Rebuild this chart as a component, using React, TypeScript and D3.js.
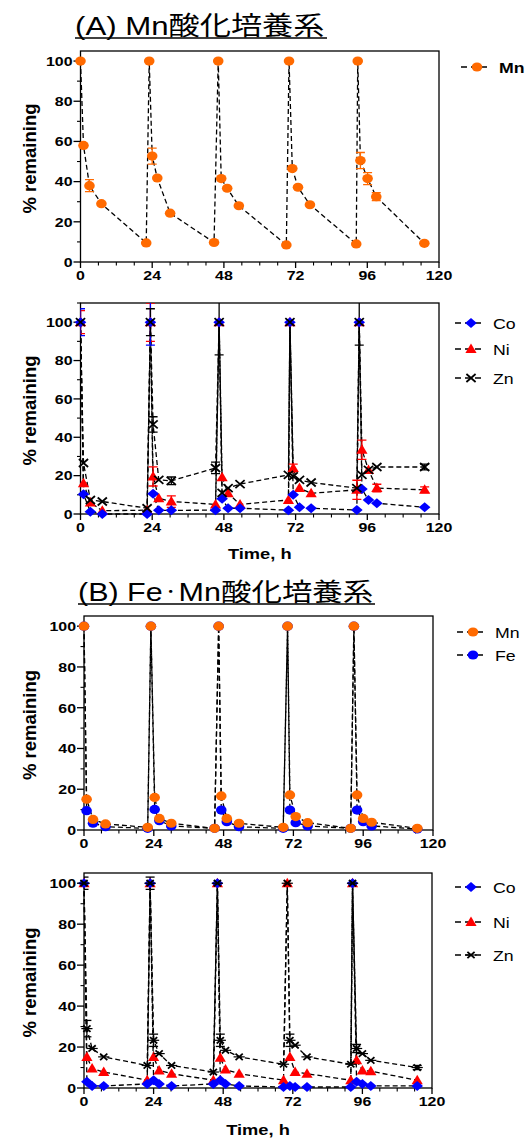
import React from 'react';
import * as d3 from 'd3';

const W = 530;
const H = 1138;
const FONT = '"Liberation Sans", Arial, "Noto Sans CJK JP", sans-serif';

// ---------- Panel A (top): Mn ----------
const aMnTime = [0, 1, 3, 7, 22, 23, 24, 25.7, 30, 44.7, 46.1, 47.1, 49.1, 53, 68.9, 69.8, 70.9, 72.8, 76.8, 92.3, 92.8, 93.7, 96.1, 99, 115.1];
const aMnValue = [100, 58, 38, 29, 9.5, 100, 52.7, 41.8, 24.3, 9.7, 100, 41.5, 36.7, 28, 8.5, 100, 46.5, 37.2, 28.5, 9, 100, 50.5, 41.5, 32.5, 9.3];
const aMnError = [0, 0, 3, 0, 0, 0, 4, 0, 0, 0, 0, 0, 0, 0, 0, 0, 0, 0, 0, 0, 0, 4, 3, 2, 0];

// ---------- Panel A (bottom): Co, Ni, Zn ----------
const aMetalTime = [0, 1, 3.3, 7.3, 22.3, 23.4, 24.3, 26.2, 30.4, 45.2, 46.4, 47.4, 49.4, 53.4, 69.6, 70.1, 71.2, 73.3, 77.2, 92.5, 93.3, 94.2, 96.4, 99.2, 115.2];
const aCoValue = [100, 10.3, 1.2, 0, 0, 100, 10.5, 1.9, 1.9, 2, 100, 7.9, 3, 3, 2, 100, 10, 3.5, 3, 2.1, 100, 13, 7.3, 5.6, 3.5];
const aCoError = [7, 0, 0, 0, 0, 12, 0, 0, 0, 0, 0, 0, 0, 0, 0, 0, 0, 0, 0, 0, 0, 0, 0, 0, 0];
const aNiValue = [100, 16, 6, 1.7, 2, 100, 19.6, 8.2, 6.5, 5, 100, 19.2, 10.8, 5, 7.3, 100, 24, 13.5, 10.8, 12.6, 100, 33.5, 23, 13.5, 12.6];
const aNiError = [6, 0, 0, 0, 0, 10, 5, 0, 3, 0, 0, 0, 0, 0, 0, 0, 2, 0, 0, 5, 0, 5, 0, 2, 1.5];
const aZnValue = [100, 26.6, 7.3, 6.5, 3, 100, 46.7, 17.8, 17.3, 24, 100, 11, 13.5, 15.6, 20.4, 100, 19.6, 17.8, 16.4, 13.5, 100, 20.4, 23, 24.5, 24.5];
const aZnError = [0, 0, 0, 0, 0, 7, 4, 0, 2, 3, 17, 0, 0, 0, 0, 0, 0, 0, 0, 0, 12, 0, 0, 0, 1.5];

// ---------- Panel B (top): Mn, Fe ----------
const bTime = [0, 0.9, 3.1, 7.4, 21.9, 23, 24.3, 25.9, 30, 44.9, 46.3, 47.2, 49.1, 53.3, 68.5, 70, 70.8, 72.8, 76.9, 91.7, 92.8, 93.9, 96, 98.9, 114.6];
const bMnValue = [100, 15.1, 5.2, 3, 1.3, 100, 16, 5.7, 3.3, 0.8, 100, 16.7, 5.7, 3.3, 1.3, 100, 17.2, 6.6, 3.6, 0.8, 100, 17.2, 5.7, 3.8, 0.8];
const bFeValue = [100, 9.5, 3.3, 1.6, 0.8, 100, 10.1, 4.6, 2, 0.8, 100, 9.8, 4.1, 1.6, 0.8, 100, 9.8, 3.6, 2, 0.8, 100, 9.8, 4.1, 2, 0.5];

// ---------- Panel B (bottom): Co, Ni, Zn ----------
const bMetalTime = [0, 1, 2.8, 6.8, 21.8, 22.8, 24, 25.9, 30.2, 44.6, 46, 47, 48.8, 53.5, 68.8, 70.1, 71, 72.8, 76.9, 92, 92.6, 94, 96, 98.9, 114.9];
const bCoValue: (number | null)[] = [100, 3, 1, 1, 2, 100, 3.8, 2, 1, 2, 100, 3.8, 2, 1, 0.5, null, 1, 0.5, 0.5, 0.5, 100, 3, 2, 1, 1];
const bNiValue = [100, 15.2, 9.5, 7.8, 3.8, 100, 15.2, 8.6, 7, 3.8, 100, 14.8, 9, 7, 3.8, 100, 15.2, 7.8, 7, 3.8, 100, 13.5, 8.6, 8.2, 3.8];
const bZnValue = [100, 29, 19.3, 15.2, 11, 100, 23.3, 16.8, 11, 7.8, 100, 23.3, 18.4, 15.2, 11.6, 100, 23.3, 20.9, 15.2, 11.6, 100, 19.3, 16.8, 13.5, 10];
const bZnError = [3, 4, 0, 0, 0, 3, 3, 0, 0, 0, 0, 3, 0, 0, 0, 0, 3, 0, 0, 0, 0, 2, 0, 0, 1];

const xTicks = [0, 24, 48, 72, 96, 120];
const yTicks = [0, 20, 40, 60, 80, 100];
const titleAParts = ['(A) Mn酸化培養系'];
const titleBParts = ['(B) Fe', '・', 'Mn酸化培養系'];
const yTitle = '% remaining';
const xTitle = 'Time, h';

const ORANGE = '#FF6A00';
const BLUE = '#0000FF';
const RED = '#FF0000';
const BLACK = '#000000';

type MarkerKind = 'circle' | 'diamond' | 'triangle' | 'x' | 'xs';
type Series = {
  name: string;
  t: number[];
  v: (number | null)[];
  e?: number[];
  color: string;
  marker: MarkerKind;
};

const SX = 1.18; // horizontal stretch of the reference

function Marker({ kind, x, y, color }: { kind: MarkerKind; x: number; y: number; color: string }) {
  if (kind === 'circle') return <ellipse cx={x} cy={y} rx={5.3} ry={4.6} fill={color} />;
  if (kind === 'diamond')
    return <path d={`M${x},${y - 5}L${x + 5.8},${y}L${x},${y + 5}L${x - 5.8},${y}Z`} fill={color} />;
  if (kind === 'triangle')
    return <path d={`M${x},${y - 5.5}L${x + 5.6},${y + 4}L${x - 5.6},${y + 4}Z`} fill={color} />;
  const s = kind === 'x' ? 4.6 : 3.6;
  const sy = kind === 'x' ? 4 : 3.2;
  return (
    <g stroke={color} strokeWidth={1.8}>
      <line x1={x - s} y1={y - sy} x2={x + s} y2={y + sy} />
      <line x1={x - s} y1={y + sy} x2={x + s} y2={y - sy} />
      {kind === 'xs' && <line x1={x - s - 2} y1={y} x2={x + s + 2} y2={y} strokeWidth={1.2} />}
    </g>
  );
}

function SText({ x, y, size, weight, anchor, children }: any) {
  return (
    <text
      transform={`translate(${x},${y}) scale(${SX},1)`}
      fontSize={size}
      fontWeight={weight || 'normal'}
      textAnchor={anchor || 'start'}
      fontFamily={FONT}
      fill="#000"
    >
      {children}
    </text>
  );
}

type PanelProps = {
  id: string;
  L: number;
  R: number;
  T: number;
  B: number;
  yMax: number;
  series: Series[];
  legendOrder: string[];
  legendX: number;
  legendYs: number[];
  legendBold?: boolean;
  showXTitle?: boolean;
  xTitleY?: number;
};

function Panel({ id, L, R, T, B, yMax, series, legendOrder, legendX, legendYs, legendBold, showXTitle, xTitleY }: PanelProps) {
  const x = d3.scaleLinear().domain([0, 120]).range([L, R]);
  const y = d3.scaleLinear().domain([0, yMax]).range([B, T]);
  const line = d3
    .line<[number, number]>()
    .x((d) => x(d[0]))
    .y((d) => y(d[1]));
  const pts = (s: Series) =>
    s.t.map((t, i) => [t, s.v[i]] as [number, number | null]).filter((d) => d[1] !== null) as [number, number][];
  const minorY = d3.range(10, yMax + 0.01, 20);
  const minorX = d3.range(6, 120, 6).filter((v) => v % 24 !== 0);
  return (
    <g>
      <defs>
        <clipPath id={'clip' + id}>
          <rect x={L} y={T} width={R - L} height={B - T + 8} />
        </clipPath>
      </defs>
      {/* frame */}
      <rect x={L} y={T} width={R - L} height={B - T} fill="none" stroke="#000" strokeWidth={1.3} />
      {/* y ticks */}
      {yTicks.map((v) => (
        <g key={'y' + v}>
          <line x1={L - 7} x2={L} y1={y(v)} y2={y(v)} stroke="#000" strokeWidth={1.3} />
          <SText x={L - 8} y={y(v) + 4.8} size={13.5} weight="bold" anchor="end">
            {v}
          </SText>
        </g>
      ))}
      {minorY.map((v) => (
        <line key={'my' + v} x1={L - 3.5} x2={L} y1={y(v)} y2={y(v)} stroke="#000" strokeWidth={1.1} />
      ))}
      {/* x ticks */}
      {xTicks.map((v) => (
        <g key={'x' + v}>
          <line x1={x(v)} x2={x(v)} y1={B} y2={B + 6} stroke="#000" strokeWidth={1.3} />
          <SText x={x(v)} y={B + 18} size={13.5} weight="bold" anchor="middle">
            {v}
          </SText>
        </g>
      ))}
      {minorX.map((v) => (
        <line key={'mx' + v} x1={x(v)} x2={x(v)} y1={B} y2={B + 3.5} stroke="#000" strokeWidth={1.1} />
      ))}
      {/* y title */}
      <text
        transform={`translate(${29},${(T + B) / 2 + 2}) rotate(-90)`}
        fontSize={18.5}
        fontWeight="bold"
        textAnchor="middle"
        fontFamily={FONT}
        dominantBaseline="central"
      >
        {yTitle}
      </text>
      {showXTitle && (
        <SText x={(L + R) / 2} y={xTitleY} size={15.5} weight="bold" anchor="middle">
          {xTitle}
        </SText>
      )}
      {/* lines */}
      {series.map((s) => (
        <path key={'l' + s.name} d={line(pts(s)) || ''} fill="none" stroke="#000" strokeWidth={1.3} strokeDasharray="5,3" />
      ))}
      {/* error bars */}
      <g clipPath={`url(#clip${id})`}>
        {series.map((s) =>
          (s.e || []).map((e, i) => {
            const v = s.v[i];
            if (!e || v === null) return null;
            const cx = x(s.t[i]);
            return (
              <g key={'e' + s.name + i} stroke={s.color} strokeWidth={1.3}>
                <line x1={cx} x2={cx} y1={y(v - e)} y2={y(v + e)} />
                <line x1={cx - 4.5} x2={cx + 4.5} y1={y(v - e)} y2={y(v - e)} />
                <line x1={cx - 4.5} x2={cx + 4.5} y1={y(v + e)} y2={y(v + e)} />
              </g>
            );
          })
        )}
      </g>
      {/* markers */}
      {series.map((s) =>
        pts(s).map((d, i) => <Marker key={'m' + s.name + i} kind={s.marker} x={x(d[0])} y={y(d[1])} color={s.color} />)
      )}
      {/* legend */}
      {legendOrder.map((name, i) => {
        const s = series.find((q) => q.name === name)!;
        const ly = legendYs[i];
        return (
          <g key={'lg' + name}>
            <line x1={legendX} x2={legendX + 30} y1={ly} y2={ly} stroke="#000" strokeWidth={1.3} strokeDasharray="6,4" />
            <Marker kind={s.marker} x={legendX + 16} y={ly} color={s.color} />
            <SText x={legendX + 38} y={ly + 5.5} size={15} weight={legendBold ? 'bold' : 'normal'}>
              {name}
            </SText>
          </g>
        );
      })}
    </g>
  );
}

function Title({ x, y, parts, width, size, sx }: { x: number; y: number; parts: string[]; width: number; size: number; sx: number }) {
  return (
    <g>
      <text transform={`translate(${x},${y}) scale(${sx},1)`} fontSize={size} fontFamily={FONT} fill="#000">
        {parts.map((p, i) =>
          p === '・' ? (
            <tspan key={i} fontSize={size * 0.52} dy={-size * 0.19}>
              {p}
            </tspan>
          ) : (
            <tspan key={i} dy={i > 0 && parts[i - 1] === '・' ? size * 0.19 : 0}>
              {p}
            </tspan>
          )
        )}
      </text>
      <line x1={x} x2={x + width} y1={y + 3.5} y2={y + 3.5} stroke="#000" strokeWidth={1.6} />
    </g>
  );
}

export default function App() {
  const pA1: Series[] = [{ name: 'Mn', t: aMnTime, v: aMnValue, e: aMnError, color: ORANGE, marker: 'circle' }];
  const pA2: Series[] = [
    { name: 'Ni', t: aMetalTime, v: aNiValue, e: aNiError, color: RED, marker: 'triangle' },
    { name: 'Co', t: aMetalTime, v: aCoValue, e: aCoError, color: BLUE, marker: 'diamond' },
    { name: 'Zn', t: aMetalTime, v: aZnValue, e: aZnError, color: BLACK, marker: 'x' },
  ];
  const pB1: Series[] = [
    { name: 'Fe', t: bTime, v: bFeValue, color: BLUE, marker: 'circle' },
    { name: 'Mn', t: bTime, v: bMnValue, color: ORANGE, marker: 'circle' },
  ];
  const pB2: Series[] = [
    { name: 'Ni', t: bMetalTime, v: bNiValue, color: RED, marker: 'triangle' },
    { name: 'Co', t: bMetalTime, v: bCoValue, color: BLUE, marker: 'diamond' },
    { name: 'Zn', t: bMetalTime, v: bZnValue, e: bZnError, color: BLACK, marker: 'xs' },
  ];
  return (
    <svg
      width={W}
      height={H}
      viewBox={`0 0 ${W} ${H}`}
      style={{ position: 'absolute', left: 0, top: 0, background: '#fff' }}
    >
      <rect x={0} y={0} width={W} height={H} fill="#fff" />
      <Title x={75} y={34.5} parts={titleAParts} width={252} size={26} sx={1.2} />
      <Panel id="a1" L={80.5} R={439} T={51} B={262} yMax={105} series={pA1} legendOrder={['Mn']} legendX={461} legendYs={[67]} legendBold />
      <Panel
        id="a2"
        L={80.5}
        R={439}
        T={303}
        B={514}
        yMax={110}
        series={pA2}
        legendOrder={['Co', 'Ni', 'Zn']}
        legendX={455}
        legendYs={[323, 349, 378]}
        showXTitle
        xTitleY={559}
      />
      <Title x={78} y={600.5} parts={titleBParts} width={297} size={25} sx={1.22} />
      <Panel id="b1" L={84} R={433} T={616} B={830} yMax={105} series={pB1} legendOrder={['Mn', 'Fe']} legendX={457} legendYs={[632, 655]} />
      <Panel
        id="b2"
        L={84}
        R={432}
        T={873}
        B={1088}
        yMax={105}
        series={pB2}
        legendOrder={['Co', 'Ni', 'Zn']}
        legendX={455}
        legendYs={[887, 922, 955]}
        showXTitle
        xTitleY={1135}
      />
    </svg>
  );
}
